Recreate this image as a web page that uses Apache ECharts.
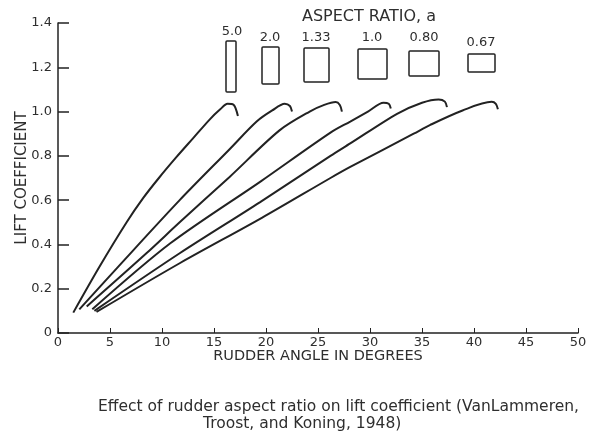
<!DOCTYPE html>
<html>
<head>
<meta charset="utf-8">
<script src="https://cdn.jsdelivr.net/npm/echarts@6/dist/echarts.min.js"></script>
<style>
  html, body { margin: 0; padding: 0; background: #fff; }
  #chart { width: 594px; height: 437px; }
</style>
</head>
<body>
<div id="chart"></div>
<script>
// aspect ratio labels, one per curve
var aspectRatios = ['5.0', '2.0', '1.33', '1.0', '0.80', '0.67'];

// [rudder angle (deg), lift coefficient]
var ar50 = [[1.47, 0.092], [4.0, 0.30], [6.6, 0.50], [8.2, 0.61], [9.7, 0.70], [11.4, 0.795], [13.0, 0.88], [14.6, 0.965], [15.6, 1.01], [16.3, 1.035], [16.9, 1.03], [17.3, 0.98]];
var ar20 = [[2.05, 0.107], [5.8, 0.30], [11.7, 0.60], [16.5, 0.83], [19.1, 0.955], [20.6, 1.005], [21.8, 1.035], [22.3, 1.025], [22.5, 1.0]];
var ar133 = [[2.76, 0.12], [8.5, 0.36], [11.7, 0.50], [16.5, 0.705], [21.3, 0.915], [24.2, 1.0], [25.6, 1.03], [26.7, 1.043], [27.1, 1.03], [27.3, 1.0]];
var ar10 = [[3.3, 0.107], [10.8, 0.405], [19.5, 0.685], [26.2, 0.905], [28.1, 0.955], [29.8, 1.0], [31.3, 1.04], [31.8, 1.035], [32.0, 1.014]];
var ar080 = [[3.5, 0.10], [11.7, 0.36], [19.4, 0.59], [26.2, 0.80], [28.1, 0.856], [32.6, 0.99], [35.0, 1.04], [36.6, 1.055], [37.2, 1.045], [37.4, 1.02]];
var ar067 = [[3.7, 0.095], [11.7, 0.315], [19.6, 0.52], [26.2, 0.70], [28.1, 0.75], [34.2, 0.90], [35.8, 0.94], [38.9, 1.005], [41.7, 1.044], [42.1, 1.035], [42.3, 1.01]];

var curves = [ar50, ar20, ar133, ar10, ar080, ar067];

var xTicks = [0, 5, 10, 15, 20, 25, 30, 35, 40, 45, 50];
var yTicks = [0, 0.2, 0.4, 0.6, 0.8, 1.0, 1.2, 1.4];

var ink = '#222';
var textInk = '#2e2e2e';
var font = 'DejaVu Sans';

var myChart = echarts.init(document.getElementById('chart'));

// little rectangles showing the plan form of each rudder
var boxes = [
    {x: 226, y: 41, w: 10, h: 51, lx: 232, ly: 32},
    {x: 262, y: 47, w: 17, h: 37, lx: 270, ly: 38},
    {x: 304, y: 48, w: 25, h: 34, lx: 316, ly: 38},
    {x: 358, y: 49, w: 29, h: 30, lx: 372, ly: 38},
    {x: 409, y: 51, w: 30, h: 25, lx: 424, ly: 38},
    {x: 468, y: 54, w: 27, h: 18, lx: 481, ly: 43}
];
var graphics = [{
    type: 'text', x: 369, y: 17,
    style: {text: 'ASPECT RATIO, a', font: '16px ' + font, fill: textInk, align: 'center', verticalAlign: 'middle'}
}];
boxes.forEach(function (b, i) {
    graphics.push({
        type: 'rect',
        shape: {x: b.x, y: b.y, width: b.w, height: b.h, r: 1},
        style: {fill: 'none', stroke: ink, lineWidth: 1.5}
    });
    graphics.push({
        type: 'text', x: b.lx, y: b.ly,
        style: {text: aspectRatios[i], font: '13px ' + font, fill: textInk, align: 'center', verticalAlign: 'middle'}
    });
});
graphics.push({
    type: 'text', x: 98, y: 399,
    style: {text: 'Effect of rudder aspect ratio on lift coefficient (VanLammeren,', font: '15.5px ' + font, fill: textInk}
});
graphics.push({
    type: 'text', x: 203, y: 416,
    style: {text: 'Troost, and Koning, 1948)', font: '15.5px ' + font, fill: textInk}
});

var option = {
    animation: false,
    backgroundColor: '#fff',
    grid: {
        left: 58,
        right: 16,
        top: 23,
        bottom: 104,
        outerBoundsMode: 'none'
    },
    xAxis: {
        type: 'value',
        min: xTicks[0],
        max: xTicks[xTicks.length - 1],
        interval: 5,
        name: 'RUDDER ANGLE IN DEGREES',
        nameLocation: 'middle',
        nameGap: 16,
        nameMoveOverlap: false,
        nameTextStyle: {fontFamily: font, fontSize: 14.5, color: textInk, verticalAlign: 'top'},
        axisLine: {lineStyle: {color: ink, width: 1.5}},
        axisTick: {inside: true, length: 5, lineStyle: {color: ink}},
        axisLabel: {fontFamily: font, fontSize: 13, color: textInk, margin: 3},
        splitLine: {show: false}
    },
    yAxis: {
        type: 'value',
        min: yTicks[0],
        max: yTicks[yTicks.length - 1],
        interval: 0.2,
        name: 'LIFT COEFFICIENT',
        nameLocation: 'middle',
        nameGap: 28,
        nameMoveOverlap: false,
        nameTextStyle: {fontFamily: font, fontSize: 15, color: textInk},
        axisLine: {show: true, lineStyle: {color: ink, width: 1.5}},
        axisTick: {show: true, inside: true, length: 11, lineStyle: {color: ink, width: 1.5}},
        axisLabel: {
            fontFamily: font, fontSize: 13, color: textInk, margin: 6,
            formatter: function (v) {
                return v === 0 ? '0' : v.toFixed(1);
            }
        },
        splitLine: {show: false}
    },
    graphic: graphics,
    series: curves.map(function (d, i) {
        return {
            name: aspectRatios[i],
            type: 'line',
            data: d,
            smooth: 0.3,
            showSymbol: false,
            lineStyle: {color: ink, width: 2}
        };
    })
};
myChart.setOption(option, true);
</script>
</body>
</html>
